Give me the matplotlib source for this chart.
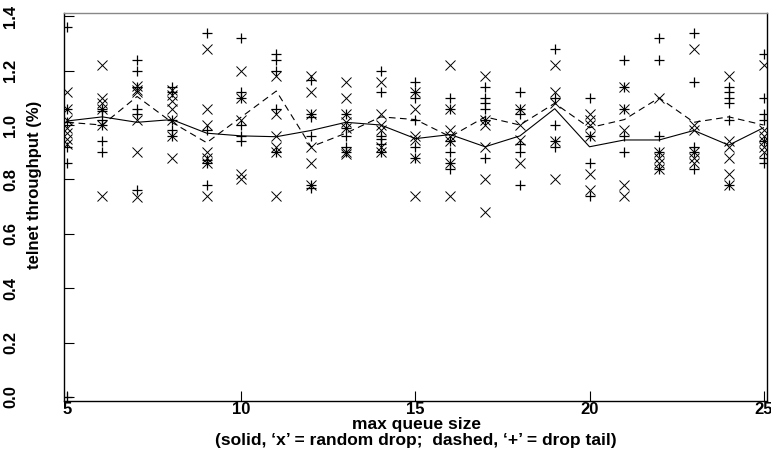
import matplotlib
matplotlib.use("Agg")
import matplotlib.pyplot as plt

plt.rcParams["font.family"] = ["Liberation Sans", "DejaVu Sans"]
plt.rcParams["font.weight"] = "bold"

# max queue size values
QUEUE = [5, 6, 7, 8, 9, 10, 11, 12, 13, 14, 15,
         16, 17, 18, 19, 20, 21, 22, 23, 24, 25]

# individual runs, random drop ('x')
RANDOM_RUNS = [
    [1.12, 1.06, 1.02, 0.99, 0.97, 0.95, 0.93],
    [1.22, 1.10, 1.08, 1.06, 1.00, 0.74],
    [1.145, 1.13, 1.12, 1.02, 0.90, 0.735],
    [1.13, 1.11, 1.09, 1.06, 1.02, 0.96, 0.88],
    [1.28, 1.06, 1.00, 0.90, 0.88, 0.86, 0.74],
    [1.20, 1.10, 1.02, 0.82, 0.80],
    [1.18, 1.04, 0.96, 0.92, 0.90, 0.74],
    [1.18, 1.12, 1.04, 0.92, 0.86, 0.78],
    [1.16, 1.10, 1.04, 1.01, 0.99, 0.90, 0.895],
    [1.16, 1.04, 1.00, 0.98, 0.92, 0.90],
    [1.12, 1.06, 0.96, 0.945, 0.88, 0.74],
    [1.22, 1.06, 0.98, 0.96, 0.94, 0.86, 0.74],
    [1.18, 1.02, 1.00, 0.92, 0.80, 0.68],
    [1.06, 1.00, 0.945, 0.86],
    [1.22, 1.12, 1.08, 0.94, 0.80],
    [1.04, 1.02, 1.00, 0.96, 0.82, 0.76],
    [1.14, 1.06, 0.98, 0.78, 0.74],
    [1.10, 0.90, 0.88, 0.86, 0.84],
    [1.28, 1.00, 0.98, 0.90, 0.88, 0.86],
    [1.18, 0.94, 0.92, 0.88, 0.82, 0.78],
    [1.22, 0.98, 0.96, 0.94, 0.92, 0.90],
]

# individual runs, drop tail ('+')
TAIL_RUNS = [
    [1.36, 1.06, 1.01, 0.92, 0.86, 0.0],
    [1.06, 1.05, 1.02, 1.00, 0.94, 0.90],
    [1.24, 1.20, 1.14, 1.06, 1.04, 0.76],
    [1.14, 1.12, 1.02, 0.98, 0.96],
    [1.34, 0.98, 0.87, 0.86, 0.78],
    [1.32, 1.12, 1.10, 1.00, 0.96, 0.94],
    [1.26, 1.24, 1.20, 1.06, 0.90],
    [1.165, 1.04, 1.03, 0.96, 0.78, 0.77],
    [1.04, 0.99, 0.96, 0.92, 0.90],
    [1.20, 1.12, 0.96, 0.95, 0.93, 0.90],
    [1.16, 1.12, 1.10, 1.02, 0.92, 0.88],
    [1.10, 1.06, 0.94, 0.90, 0.86, 0.84],
    [1.14, 1.10, 1.08, 1.06, 1.02, 0.88],
    [1.12, 1.06, 1.04, 0.93, 0.90, 0.78],
    [1.28, 1.10, 1.00, 0.94, 0.92],
    [1.10, 0.96, 0.86, 0.74],
    [1.24, 1.14, 1.06, 0.96, 0.90],
    [1.32, 1.24, 0.96, 0.90, 0.84],
    [1.34, 1.16, 0.92, 0.90, 0.84],
    [1.14, 1.12, 1.10, 1.08, 1.02, 0.78],
    [1.26, 1.10, 1.04, 1.02, 0.94, 0.88, 0.86],
]

# averaged curves
RANDOM_AVG = [1.015, 1.03, 1.01, 1.02, 0.97, 0.96, 0.957, 0.98, 1.01, 1.00, 0.95,
              0.965, 0.92, 0.96, 1.06, 0.92, 0.945, 0.945, 0.98, 0.926, 0.99]
TAIL_AVG = [1.01, 1.00, 1.105, 1.01, 0.935, 1.03, 1.125, 0.92, 0.97, 1.03, 1.02,
            0.957, 1.03, 1.00, 1.08, 0.99, 1.02, 1.10, 1.01, 1.03, 1.00]

XTICKS = [5, 10, 15, 20, 25]
YTICKS = [0.0, 0.2, 0.4, 0.6, 0.8, 1.0, 1.2, 1.4]


def flatten(xs, runs):
    px, py = [], []
    for x, vals in zip(xs, runs):
        for v in vals:
            px.append(x)
            py.append(v)
    return px, py


fig = plt.figure(figsize=(7.71, 4.5), dpi=100)
ax = fig.add_axes([64 / 771, 1 - 401 / 450, 703 / 771, 388 / 450])

rx, ry = flatten(QUEUE, RANDOM_RUNS)
tx, ty = flatten(QUEUE, TAIL_RUNS)
ax.plot(rx, ry, "x", color="black", markersize=6.5, markeredgewidth=0.7)
ax.plot(tx, ty, "+", color="black", markersize=7, markeredgewidth=0.9)
ax.plot(QUEUE, RANDOM_AVG, "-", color="black", linewidth=0.8)
ax.plot(QUEUE, TAIL_AVG, color="black", linewidth=0.8, linestyle=(0, (6, 4)))

ax.set_xlim(4.9, 25.1)
ax.set_ylim(-0.015, 1.412)
ax.set_xticks(XTICKS)
ax.set_yticks(YTICKS)
ax.set_yticklabels([f"{v:.1f}" for v in YTICKS])
ax.tick_params(axis="x", direction="in", length=7, width=0.8, pad=1, labelsize=12)
ax.tick_params(axis="y", direction="in", length=7, width=0.8, pad=33,
               labelsize=12, labelrotation=90)
for lbl in ax.get_yticklabels():
    lbl.set_verticalalignment("center")

for side in ["left", "bottom", "right"]:
    ax.spines[side].set_linewidth(1.0)
ax.spines["top"].set_linewidth(1.0)
ax.spines["top"].set_color("#888888")

fig.text(35 / 771, 1 - 185 / 450, "telnet throughput (%)", rotation=90,
         ha="center", va="center", fontsize=12, fontweight="bold")
fig.text(416 / 771, 1 - 424 / 450, "max queue size",
         ha="center", va="center", fontsize=12.5, fontweight="bold")
fig.text(416 / 771, 1 - 440 / 450,
         "(solid, \u2018x\u2019 = random drop;  dashed, \u2018+\u2019 = drop tail)",
         ha="center", va="center", fontsize=12.5, fontweight="bold")

fig.savefig("out.png", dpi=100, facecolor="white")
